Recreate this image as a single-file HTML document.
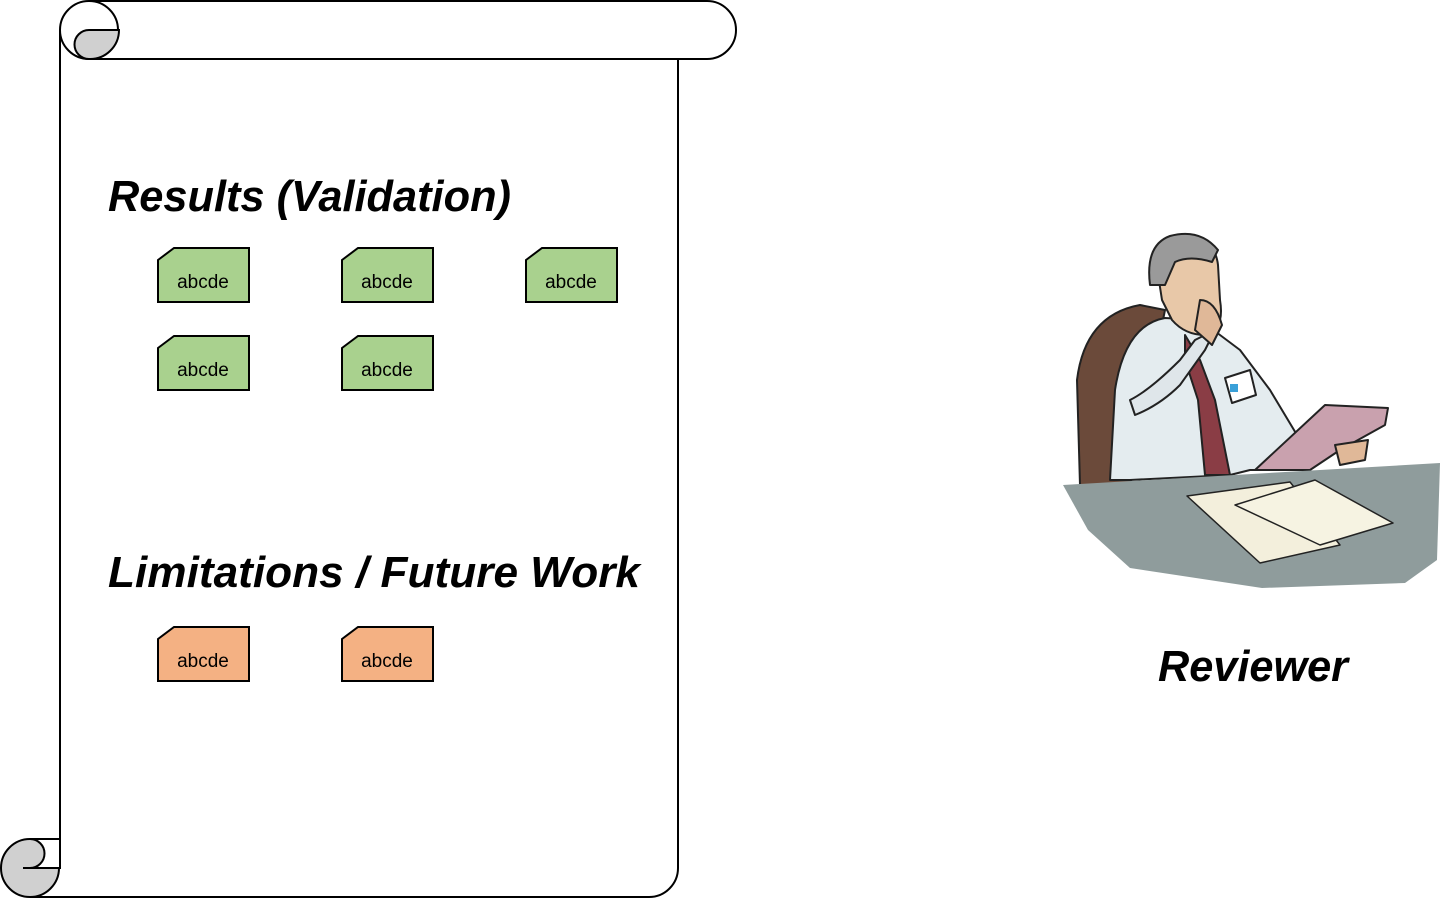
<!DOCTYPE html>
<html><head><meta charset="utf-8"><style>
html,body{margin:0;padding:0;background:#fff;}
svg{display:block;}
</style></head><body>
<svg width="1445" height="899" viewBox="0 0 1445 899" xmlns="http://www.w3.org/2000/svg">
<g fill="none" stroke="#000" stroke-width="2">
  <!-- scroll body -->
  <path d="M60,30 L60,839" />
  <path d="M678,59 L678,868 A29,29 0 0 1 649,897 L30,897" />
  <!-- top bar -->
  <path d="M89,1 L707,1 A29,29 0 0 1 707,59 L89,59" fill="#fff"/>
  <circle cx="89" cy="30" r="29" fill="#fff"/>
  <path d="M89,30 L119,30 A29,29 0 0 1 89,59 A14.5,14.5 0 0 1 89,30 Z" fill="#d0d0d0"/>
  <!-- bottom curl -->
  <circle cx="30" cy="868" r="29" fill="#d0d0d0"/>
  <path d="M30,839 L60,839 L60,868 L30,868 A14.5,14.5 0 0 0 30,839 Z" fill="#fff"/>
  <path d="M23,868 L60,868"/>
  <path d="M30,897 L60,897"/>
</g>
<g font-family="Liberation Sans, sans-serif" font-weight="bold" font-style="italic" fill="#000">
  <text x="108" y="211" font-size="44" textLength="403" lengthAdjust="spacingAndGlyphs">Results (Validation)</text>
  <text x="108" y="587" font-size="44" textLength="532" lengthAdjust="spacingAndGlyphs">Limitations / Future Work</text>
  <text x="1158" y="681" font-size="44" textLength="190" lengthAdjust="spacingAndGlyphs">Reviewer</text>
</g>
<defs>
  <g id="n"><path d="M0,12 L16,0 L91,0 L91,54 L0,54 Z" stroke="#000" stroke-width="2"/></g>
</defs>
<g font-family="Liberation Sans, sans-serif" font-size="19" text-anchor="middle" fill="#000">
  <g fill="#a9d18e"><use href="#n" x="158" y="248"/><use href="#n" x="342" y="248"/><use href="#n" x="526" y="248"/><use href="#n" x="158" y="336"/><use href="#n" x="342" y="336"/></g>
  <g fill="#f4b183"><use href="#n" x="158" y="627"/><use href="#n" x="342" y="627"/></g>
  <text x="203" y="288">abcde</text><text x="387" y="288">abcde</text><text x="571" y="288">abcde</text>
  <text x="203" y="376">abcde</text><text x="387" y="376">abcde</text>
  <text x="203" y="667">abcde</text><text x="387" y="667">abcde</text>
</g>
<!-- reviewer clipart -->
<g stroke="#222" stroke-width="2" stroke-linejoin="round">
  <!-- chair -->
  <path d="M1080,485 L1077,380 Q1085,315 1140,305 L1165,310 L1130,485 Z" fill="#6b4a3a"/>
  <!-- coat body -->
  <path d="M1110,480 L1115,390 Q1125,325 1165,318 L1200,320 L1240,350 L1270,390 L1300,440 L1290,470 L1250,470 L1230,475 L1130,480 Z" fill="#e4ecef"/>
  <!-- tie -->
  <path d="M1185,335 L1200,360 L1215,400 L1230,475 L1205,475 L1198,400 L1185,360 Z" fill="#8a3d45"/>
  <!-- arm to chin -->
  <path d="M1130,400 Q1150,390 1180,360 L1195,340 L1215,330 L1205,350 L1180,385 Q1160,405 1135,415 Z" fill="#dfe6ea"/>
  <!-- badge -->
  <path d="M1225,378 L1250,370 L1256,395 L1232,403 Z" fill="#fff"/>
  <rect x="1230" y="384" width="8" height="8" fill="#3aa0d8" stroke="none"/>
  <!-- head -->
  <path d="M1155,255 Q1160,235 1185,235 Q1215,238 1218,265 L1220,300 Q1225,330 1205,335 Q1185,335 1172,320 L1162,300 Z" fill="#e8c8a8"/>
  <path d="M1150,285 Q1145,245 1170,236 Q1200,228 1218,250 L1212,262 Q1190,255 1175,262 L1165,285 Z" fill="#9a9a9a"/>
  <!-- hand -->
  <path d="M1200,300 Q1215,300 1222,325 L1212,345 L1195,330 Z" fill="#e0b898"/>
  <!-- clipboard -->
  <path d="M1255,470 L1325,405 L1388,408 L1385,425 L1340,450 L1310,470 Z" fill="#c9a1ae"/>
  <path d="M1335,445 L1368,440 L1365,460 L1340,465 Z" fill="#e0b898"/>
  <!-- desk -->
  <path d="M1063,485 L1440,463 L1437,560 L1405,583 L1262,588 L1130,568 L1088,530 Z" fill="#8f9c9c" stroke="none"/>
  <!-- papers -->
  <path d="M1187,496 L1290,482 L1340,545 L1260,563 Z" fill="#f3efdc" stroke-width="1.5"/>
  <path d="M1235,505 L1315,480 L1393,523 L1320,545 Z" fill="#f6f3e2" stroke-width="1.5"/>
</g>
</svg>
</body></html>
